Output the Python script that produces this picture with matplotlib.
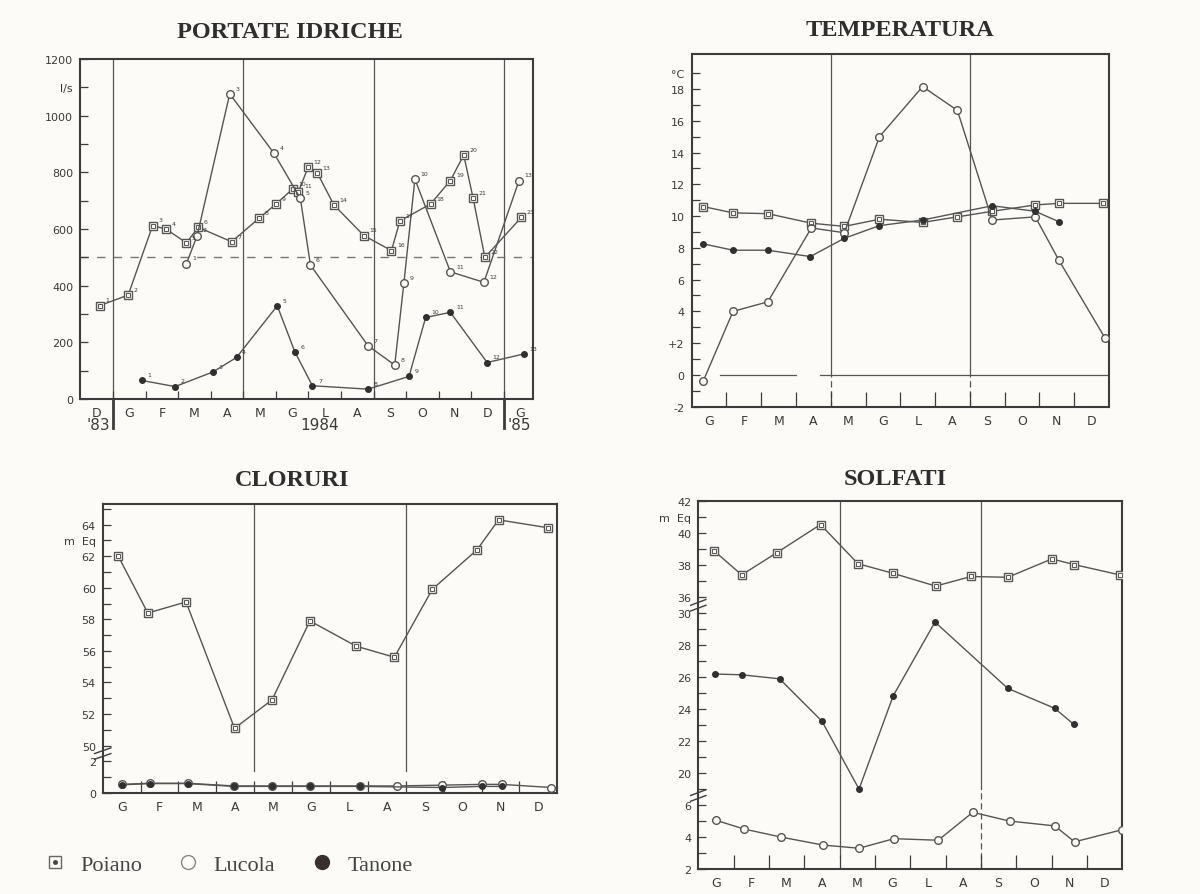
import numpy as np
import matplotlib.pyplot as plt
from matplotlib.lines import Line2D
from matplotlib.legend_handler import HandlerTuple
import matplotlib.transforms as mtransforms

# ---------------- data ----------------
months_q = ['D', 'G', 'F', 'M', 'A', 'M', 'G', 'L', 'A', 'S', 'O', 'N', 'D', 'G']
months = ['G', 'F', 'M', 'A', 'M', 'G', 'L', 'A', 'S', 'O', 'N', 'D']

# portate idriche (l/s), x = month index (0 = Dec '83)
poiano_q_x = [0.09, 0.96, 1.71, 2.12, 2.75, 3.11, 4.14, 4.98, 5.50, 6.01, 6.19, 6.49,
              6.77, 7.28, 8.20, 9.05, 9.31, 10.25, 10.86, 11.27, 11.56, 11.92, 13.04]
poiano_q = [330, 367, 612, 600, 551, 606, 555, 638, 688, 741, 732, 818,
            798, 685, 577, 524, 629, 688, 771, 861, 708, 500, 641]
lucola_q_x = [2.75, 3.08, 4.08, 5.44, 6.25, 6.56, 8.33, 9.15, 9.43, 9.77, 10.86, 11.89, 12.97]
lucola_q = [478, 577, 1077, 867, 708, 473, 188, 120, 408, 776, 449, 412, 771]
tanone_q_x = [1.37, 2.40, 3.57, 4.29, 5.54, 6.08, 6.62, 8.33, 9.59, 10.10, 10.86, 11.99, 13.11]
tanone_q = [66, 44, 96, 147, 329, 167, 47, 35, 80, 288, 306, 129, 159]

# temperatura (°C), x = month index (0 = start of Jan)
poiano_t_x = [0.33, 1.19, 2.19, 3.44, 4.39, 5.40, 6.64, 7.64, 8.64, 9.88, 10.55, 11.84]
poiano_t = [10.6, 10.2, 10.15, 9.55, 9.35, 9.8, 9.6, 9.95, 10.3, 10.7, 10.8, 10.8]
lucola_t_x = [0.33, 1.19, 2.19, 3.44, 4.39, 5.40, 6.64, 7.64, 8.64, 9.88, 10.55, 11.89]
lucola_t = [-0.4, 4.0, 4.6, 9.25, 8.95, 15.0, 18.15, 16.65, 9.75, 9.95, 7.25, 2.3]
tanone_t_x = [0.33, 1.19, 2.19, 3.41, 4.39, 5.40, 6.64, 8.64, 9.88, 10.55]
tanone_t = [8.25, 7.85, 7.85, 7.45, 8.6, 9.4, 9.75, 10.65, 10.3, 9.65]

# cloruri (m Eq)
poiano_c_x = [0.41, 1.19, 2.2, 3.48, 4.47, 5.47, 6.69, 7.7, 8.7, 9.88, 10.45, 11.75]
poiano_c = [62.0, 58.4, 59.1, 51.1, 52.9, 57.9, 56.3, 55.6, 59.9, 62.4, 64.3, 63.8]
lucola_c_x = [0.5, 1.24, 2.24, 3.46, 4.47, 5.47, 6.78, 7.77, 8.96, 10.0, 10.53, 11.84]
lucola_c = [0.55, 0.62, 0.62, 0.45, 0.45, 0.45, 0.45, 0.45, 0.5, 0.55, 0.55, 0.35]
tanone_c_x = [0.5, 1.24, 2.24, 3.46, 4.47, 5.47, 6.78, 8.96, 10.0, 10.53]
tanone_c = [0.52, 0.6, 0.6, 0.42, 0.42, 0.42, 0.42, 0.35, 0.42, 0.42]

# solfati (m Eq)
poiano_s_x = [0.45, 1.23, 2.23, 3.46, 4.52, 5.51, 6.72, 7.72, 8.76, 10.01, 10.63, 11.93]
poiano_s = [38.9, 37.4, 38.8, 40.55, 38.1, 37.5, 36.7, 37.3, 37.25, 38.4, 38.05, 37.4]
tanone_s_x = [0.47, 1.23, 2.3, 3.5, 4.55, 5.52, 6.7, 8.76, 10.09, 10.63]
tanone_s = [26.2, 26.15, 25.9, 23.25, 19.0, 24.85, 29.45, 25.3, 24.05, 23.05]
lucola_s_x = [0.5, 1.3, 2.34, 3.53, 4.55, 5.54, 6.79, 7.77, 8.81, 10.09, 10.65, 11.98]
lucola_s = [5.05, 4.5, 4.0, 3.5, 3.3, 3.9, 3.8, 5.55, 5.0, 4.7, 3.7, 4.45]

# ---------------- style ----------------
bg = '#fcfbf7'
lc = '#555555'
axc = '#3c3c3c'
txt = '#3a3a3a'


def clor_map(v):
    v = np.asarray(v, dtype=float)
    return np.where(v > 10, v - 47, v)


def solf_map(v):
    v = np.asarray(v, dtype=float)
    return np.where(v > 33, v - 17, np.where(v > 10, v - 12, v))


def poiano(ax, x, y):
    ax.plot(x, y, color=lc, lw=1.0, marker='s', ms=5.5, mfc=bg, mec=lc, mew=1.0, zorder=3)
    ax.plot(x, y, ls='none', marker='s', ms=2.2, mfc='none', mec=lc, mew=0.7, zorder=4)


def lucola(ax, x, y):
    ax.plot(x, y, color=lc, lw=1.0, marker='o', ms=5.5, mfc=bg, mec=lc, mew=1.0, zorder=3)


def tanone(ax, x, y):
    ax.plot(x, y, color=lc, lw=1.0, marker='o', ms=4, mfc='#303030', mec='#303030', zorder=4)


def style(ax, tick_len=8):
    ax.set_facecolor(bg)
    for s in ax.spines.values():
        s.set_linewidth(1.5)
        s.set_color(axc)
    ax.tick_params(axis='y', which='both', direction='in', length=6, width=0.9,
                   colors=axc, labelsize=8, labelcolor=txt, pad=5)
    ax.tick_params(axis='x', which='major', length=0, labelsize=9, labelcolor=txt, pad=5)
    ax.tick_params(axis='x', which='minor', direction='in', length=tick_len, width=0.9, colors=axc)


def ybreak(ax, yc):
    tr = ax.get_yaxis_transform()
    for dy in (-0.18, 0.18):
        ax.plot([-0.018, 0.018], [yc + dy - 0.18, yc + dy + 0.18], color=axc, lw=1.0,
                transform=tr, clip_on=False, zorder=6)


fig = plt.figure(figsize=(12, 8.95), dpi=100, facecolor=bg)

# ---------------- PORTATE IDRICHE ----------------
ax1 = fig.add_axes([0.0667, 0.553, 0.3775, 0.380])
style(ax1, tick_len=6)
ax1.set_xlim(-0.52, 13.4)
ax1.set_ylim(0, 1200)
ax1.set_xticks(range(len(months_q)))
ax1.set_xticklabels(months_q)
ax1.set_xticks(np.arange(0.5, 13, 1), minor=True)
yt = np.arange(0, 1201, 100)
ax1.set_yticks(yt)
ax1.set_yticklabels([('l/s' if v == 1100 else (str(v) if v % 200 == 0 else '')) for v in yt])
for xv in (0.5, 4.5, 8.5, 12.5):
    ax1.axvline(xv, color=lc, lw=0.9, zorder=1)
ax1.axhline(500, color='#777777', lw=1.0, ls=(0, (6, 6)), zorder=1)
poiano(ax1, poiano_q_x, poiano_q)
lucola(ax1, lucola_q_x, lucola_q)
tanone(ax1, tanone_q_x, tanone_q)
for xs, ys in ((poiano_q_x, poiano_q), (lucola_q_x, lucola_q), (tanone_q_x, tanone_q)):
    for i, (xv, yv) in enumerate(zip(xs, ys)):
        ax1.annotate(str(i + 1), (xv, yv), xytext=(4, 3), textcoords='offset points',
                     fontsize=4.5, color=txt)
tb = mtransforms.blended_transform_factory(ax1.transData, ax1.transAxes)
for xv in (0.5, 12.5):
    ax1.plot([xv, xv], [0, -0.085], color=axc, lw=2.0, transform=tb, clip_on=False)
ax1.text(0.05, -0.075, "'83", transform=tb, ha='center', va='center', fontsize=11, color=txt)
ax1.text(6.85, -0.075, '1984', transform=tb, ha='center', va='center', fontsize=11, color=txt)
ax1.text(12.99, -0.075, "'85", transform=tb, ha='center', va='center', fontsize=11, color=txt)

# ---------------- TEMPERATURA ----------------
ax2 = fig.add_axes([0.5764, 0.5445, 0.3478, 0.394])
style(ax2, tick_len=11)
ax2.set_xlim(0, 12)
ax2.set_ylim(-2, 20.2)
ax2.set_xticks(np.arange(12) + 0.5)
ax2.set_xticklabels(months)
ax2.set_xticks(np.arange(1, 12), minor=True)
yt = np.arange(-2, 20)
tl = {-2: '-2', 0: '0', 2: '+2', 19: '°C'}
ax2.set_yticks(yt)
ax2.set_yticklabels([tl.get(v, str(v) if v % 2 == 0 else '') for v in yt])
for xv in (4, 8):
    ax2.plot([xv, xv], [0, 20.2], color=lc, lw=0.9, zorder=1)
    ax2.plot([xv, xv], [-2, 0], color=lc, lw=0.9, ls=(0, (5, 3)), zorder=1)
ax2.plot([0.8, 3.0], [0, 0], color=lc, lw=0.9, zorder=1)
ax2.plot([3.7, 12], [0, 0], color=lc, lw=0.9, zorder=1)
poiano(ax2, poiano_t_x, poiano_t)
lucola(ax2, lucola_t_x, lucola_t)
tanone(ax2, tanone_t_x, tanone_t)

# ---------------- CLORURI ----------------
ax3 = fig.add_axes([0.0856, 0.1128, 0.3788, 0.3229])
style(ax3, tick_len=9)
ax3.set_xlim(0, 12)
ax3.set_ylim(0, 18.3)
ax3.set_xticks(np.arange(12) + 0.5)
ax3.set_xticklabels(months)
ax3.set_xticks(np.arange(1, 12), minor=True)
cl_vals = [0, 1, 2] + list(range(50, 66))
cl_lab = []
for v in cl_vals:
    if v == 63:
        cl_lab.append('m  Eq')
    elif v % 2 == 0:
        cl_lab.append(str(v))
    else:
        cl_lab.append('')
ax3.set_yticks(clor_map(cl_vals))
ax3.set_yticklabels(cl_lab)
ybreak(ax3, 2.5)
for xv in (4, 8):
    ax3.plot([xv, xv], [1.4, 18.3], color=lc, lw=0.9, zorder=1)
poiano(ax3, poiano_c_x, clor_map(poiano_c))
lucola(ax3, lucola_c_x, clor_map(lucola_c))
tanone(ax3, tanone_c_x, clor_map(tanone_c))

# ---------------- SOLFATI ----------------
ax4 = fig.add_axes([0.5819, 0.0279, 0.3533, 0.4108])
style(ax4, tick_len=10)
ax4.set_xlim(0, 12)
ax4.set_ylim(2, 25)
ax4.set_xticks(np.arange(12) + 0.5)
ax4.set_xticklabels(months)
ax4.set_xticks(np.arange(1, 12), minor=True)
so_vals = list(range(2, 7)) + list(range(19, 31)) + list(range(36, 43))
so_lab = []
for v in so_vals:
    if v == 41:
        so_lab.append('m  Eq')
    elif v % 2 == 0:
        so_lab.append(str(v))
    else:
        so_lab.append('')
ax4.set_yticks(solf_map(so_vals))
ax4.set_yticklabels(so_lab)
ybreak(ax4, 6.6)
ybreak(ax4, 18.5)
ax4.plot([4, 4], [2.8, 25], color=lc, lw=0.9, zorder=1)
ax4.plot([8, 8], [7, 25], color=lc, lw=0.9, zorder=1)
ax4.plot([8, 8], [2, 7], color=lc, lw=0.9, ls=(0, (5, 3)), zorder=1)
poiano(ax4, poiano_s_x, solf_map(poiano_s))
tanone(ax4, tanone_s_x, solf_map(tanone_s))
lucola(ax4, lucola_s_x, solf_map(lucola_s))

# ---------------- titles ----------------
title_kw = dict(fontsize=17.5, fontweight='bold', family='Liberation Serif', color='#2e2e2e',
                ha='center', va='center')
fig.text(290 / 1200, 1 - 33 / 895, 'PORTATE IDRICHE', **title_kw)
fig.text(900 / 1200, 1 - 30 / 895, 'TEMPERATURA', **title_kw)
fig.text(292 / 1200, 1 - 481 / 895, 'CLORURI', **title_kw)
fig.text(895 / 1200, 1 - 480 / 895, 'SOLFATI', **title_kw)

# ---------------- legend ----------------
h_p = (Line2D([], [], ls='none', marker='s', ms=9, mfc=bg, mec='#666666', mew=1.0),
       Line2D([], [], ls='none', marker='o', ms=2.5, mfc='#444444', mec='#444444'))
h_l = Line2D([], [], ls='none', marker='o', ms=10, mfc=bg, mec='#888888', mew=1.0)
h_t = Line2D([], [], ls='none', marker='o', ms=10, mfc='#3a3030', mec='#3a3030')
fig.legend([h_p, h_l, h_t], ['Poiano', 'Lucola', 'Tanone'],
           handler_map={tuple: HandlerTuple(ndivide=1)},
           loc='center left', bbox_to_anchor=(0.027, 1 - 866 / 895), ncol=3, frameon=False,
           borderpad=0, prop={'family': 'Liberation Serif', 'size': 16}, labelcolor='#444444',
           handlelength=1.0, handletextpad=0.64, columnspacing=1.6)

fig.savefig('out.png', dpi=100, facecolor=bg)
